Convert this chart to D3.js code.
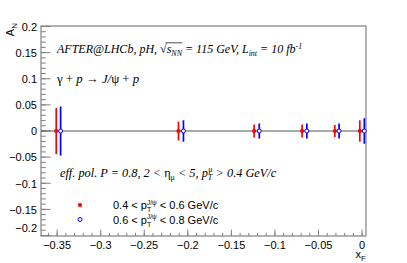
<!DOCTYPE html>
<html><head><meta charset="utf-8">
<script src="https://cdn.jsdelivr.net/npm/d3@7"></script>
<style>body{margin:0;background:#fff}svg{display:block}</style>
</head><body>
<svg id="c" width="407" height="263"></svg>
<script>
const xfRed   = [-0.351, -0.2107, -0.1239, -0.0688, -0.0313, -0.0026];
const anRed   = [0, 0, 0, 0, 0, 0];
const errRed  = [0.044, 0.018, 0.0125, 0.0125, 0.0115, 0.0205];
const xfBlue  = [-0.346, -0.2050, -0.1180, -0.0634, -0.0264, 0.0026];
const anBlue  = [0, 0, 0, 0, 0, 0];
const errBlue = [0.047, 0.0205, 0.0144, 0.0144, 0.0144, 0.0245];
const xTicks = [-0.35, -0.3, -0.25, -0.2, -0.15, -0.1, -0.05, 0];
const yTicks = [-0.2, -0.15, -0.1, -0.05, 0, 0.05, 0.1, 0.15, 0.2];

const svg = d3.select("#c");
const L = 41, R = 366, T = 26, B = 236;
const x = d3.scaleLinear().domain([-0.3685, 0.0045]).range([L, R]);
const y = d3.scaleLinear().domain([-0.2, 0.2]).range([B - 0.5, T + 0.5]);
const fmt = v => (v < 0 ? "\u2212" : "") + String(Math.abs(+v.toFixed(3)));
const sans = "'Liberation Sans', Arial, sans-serif";
const serif = "'Liberation Serif', 'Times New Roman', serif";
const frameCol = "#808080";

// minor ticks
const xMinor = d3.range(-0.36, 0.0001, 0.01).map(v => +v.toFixed(3));
const yMinor = d3.range(-0.2, 0.2001, 0.01).map(v => +v.toFixed(3));
const g = svg.append("g");
g.selectAll(".xm").data(xMinor).enter().append("line")
  .attr("x1", d => x(d)).attr("x2", d => x(d)).attr("y1", B).attr("y2", B - 3.2)
  .attr("stroke", frameCol).attr("stroke-width", 1);
g.selectAll(".xM").data(xTicks).enter().append("line")
  .attr("x1", d => x(d)).attr("x2", d => x(d)).attr("y1", B).attr("y2", B - 6.4)
  .attr("stroke", frameCol).attr("stroke-width", 1);
g.selectAll(".ym").data(yMinor).enter().append("line")
  .attr("x1", L).attr("x2", L + 4.8).attr("y1", d => y(d)).attr("y2", d => y(d))
  .attr("stroke", frameCol).attr("stroke-width", 1);
g.selectAll(".yM").data(yTicks).enter().append("line")
  .attr("x1", L).attr("x2", L + 9.6).attr("y1", d => y(d)).attr("y2", d => y(d))
  .attr("stroke", frameCol).attr("stroke-width", 1);

// frame
svg.append("rect").attr("x", L).attr("y", T).attr("width", R - L).attr("height", B - T)
  .attr("fill", "none").attr("stroke", frameCol).attr("stroke-width", 1.2);

// tick labels
svg.selectAll(".xl").data(xTicks).enter().append("text")
  .attr("x", d => x(d)).attr("y", 245).attr("dy", "0.35em")
  .attr("text-anchor", "middle").attr("font-family", sans).attr("font-size", 11)
  .text(fmt);
svg.selectAll(".yl").data(yTicks).enter().append("text")
  .attr("x", 37).attr("y", d => y(d) + (d === -0.2 ? -7.5 : 0.5)).attr("dy", "0.35em")
  .attr("text-anchor", "end").attr("font-family", sans).attr("font-size", 11)
  .text(fmt);

// axis titles
const xt = svg.append("text").attr("x", 366).attr("y", 258).attr("text-anchor", "end")
  .attr("font-family", sans).attr("font-size", 11);
xt.append("tspan").text("x");
xt.append("tspan").attr("font-size", 8).attr("dy", 3).text("F");
const yt = svg.append("text").attr("transform", "translate(14,23) rotate(-90)")
  .attr("text-anchor", "end").attr("font-family", sans).attr("font-size", 11);
yt.append("tspan").text("A");
yt.append("tspan").attr("font-size", 8).attr("dy", 3).text("N");

// zero line
svg.append("line").attr("x1", L).attr("x2", R).attr("y1", y(0)).attr("y2", y(0))
  .attr("stroke", "#555").attr("stroke-width", 1);

// data
function series(xs, ys, es, col, filled) {
  const d = xs.map((v, i) => ({x: v, y: ys[i], e: es[i]}));
  svg.selectAll(null).data(d).enter().append("line")
    .attr("x1", p => x(p.x)).attr("x2", p => x(p.x))
    .attr("y1", p => y(p.y + p.e)).attr("y2", p => y(p.y - p.e))
    .attr("stroke", col).attr("stroke-width", 1.7);
  svg.selectAll(null).data(d).enter().append("circle")
    .attr("cx", p => x(p.x)).attr("cy", p => y(p.y)).attr("r", filled ? 2.1 : 2)
    .attr("fill", filled ? col : "#fff").attr("stroke", col).attr("stroke-width", filled ? 0 : 1);
}
series(xfRed, anRed, errRed, "#ff0000", true);
series(xfBlue, anBlue, errBlue, "#0000ff", false);

// annotation line 1
const t1 = svg.append("text").attr("x", 57).attr("y", 53).attr("font-family", serif)
  .attr("font-style", "italic").attr("font-size", 12);
t1.append("tspan").text("AFTER@LHCb, pH, ");
t1.append("tspan").attr("font-style", "normal").text("\u221A");
t1.append("tspan").text("s");
t1.append("tspan").attr("font-size", 8).attr("dy", 2.5).text("NN");
t1.append("tspan").attr("dy", -2.5).text(" = 115 GeV, L");
t1.append("tspan").attr("font-size", 8).attr("dy", 2.5).text("int");
t1.append("tspan").attr("dy", -2.5).text(" = 10 fb");
t1.append("tspan").attr("font-size", 8).attr("dy", -4.5).text("-1");
// overline for sqrt
(function(){
  const n = t1.node();
  const full = "AFTER@LHCb, pH, \u221A";
  const i0 = full.length;
  const e1 = n.getEndPositionOfChar(i0 + 2);
  const rs = n.getStartPositionOfChar(i0 - 1);
  svg.append("line").attr("x1", rs.x + 5.5).attr("x2", e1.x + 0.5)
    .attr("y1", 53 - 10.2).attr("y2", 53 - 10.2).attr("stroke", "#000").attr("stroke-width", 0.7);
})();

// annotation line 2
const t2 = svg.append("text").attr("x", 57).attr("y", 83).attr("font-family", serif)
  .attr("font-size", 12.8);
t2.append("tspan").text("\u03B3 + ");
t2.append("tspan").attr("font-style", "italic").text("p");
t2.append("tspan").text(" \u2192 ");
t2.append("tspan").attr("font-style", "italic").text("J/");
t2.append("tspan").text("\u03C8 + ");
t2.append("tspan").attr("font-style", "italic").text("p");

// annotation line 3
const t3 = svg.append("text").attr("x", 60).attr("y", 177).attr("font-family", serif)
  .attr("font-style", "italic").attr("font-size", 12.3);
t3.append("tspan").text("eff. pol. P = 0.8, 2 < ");
t3.append("tspan").attr("font-style", "normal").text("\u03B7");
t3.append("tspan").attr("font-style", "normal").attr("font-size", 8).attr("dy", 3).text("\u03BC");
t3.append("tspan").attr("dy", -3).text(" < 5, p");
t3.append("tspan").attr("font-size", 8).attr("dy", 3).text("T");
t3.append("tspan").attr("font-style", "normal").attr("font-size", 8).attr("dx", -4).attr("dy", -8).text("\u03BC");
t3.append("tspan").attr("dy", 5).text(" > 0.4 GeV/c");

// legend
const legRows = [
  {lo: "0.4", hi: "0.6", col: "#ff0000", filled: true, yy: 205},
  {lo: "0.6", hi: "0.8", col: "#0000ff", filled: false, yy: 219.5}
];
legRows.forEach(r => {
  svg.append("circle").attr("cx", 80).attr("cy", r.yy).attr("r", r.filled ? 2.1 : 2)
    .attr("fill", r.filled ? r.col : "#fff").attr("stroke", r.col).attr("stroke-width", r.filled ? 0 : 1);
  const t = svg.append("text").attr("x", 113).attr("y", r.yy + 4).attr("font-family", sans).attr("font-size", 11);
  t.append("tspan").text(r.lo + " < p");
  t.append("tspan").attr("font-size", 7).attr("dy", 3).text("T");
  t.append("tspan").attr("font-size", 6.5).attr("dx", -4.2).attr("dy", -7.5).text("J/\u03C8");
  t.append("tspan").attr("dy", 4.5).text(" < " + r.hi + " GeV/c");
});
</script>
</body></html>
